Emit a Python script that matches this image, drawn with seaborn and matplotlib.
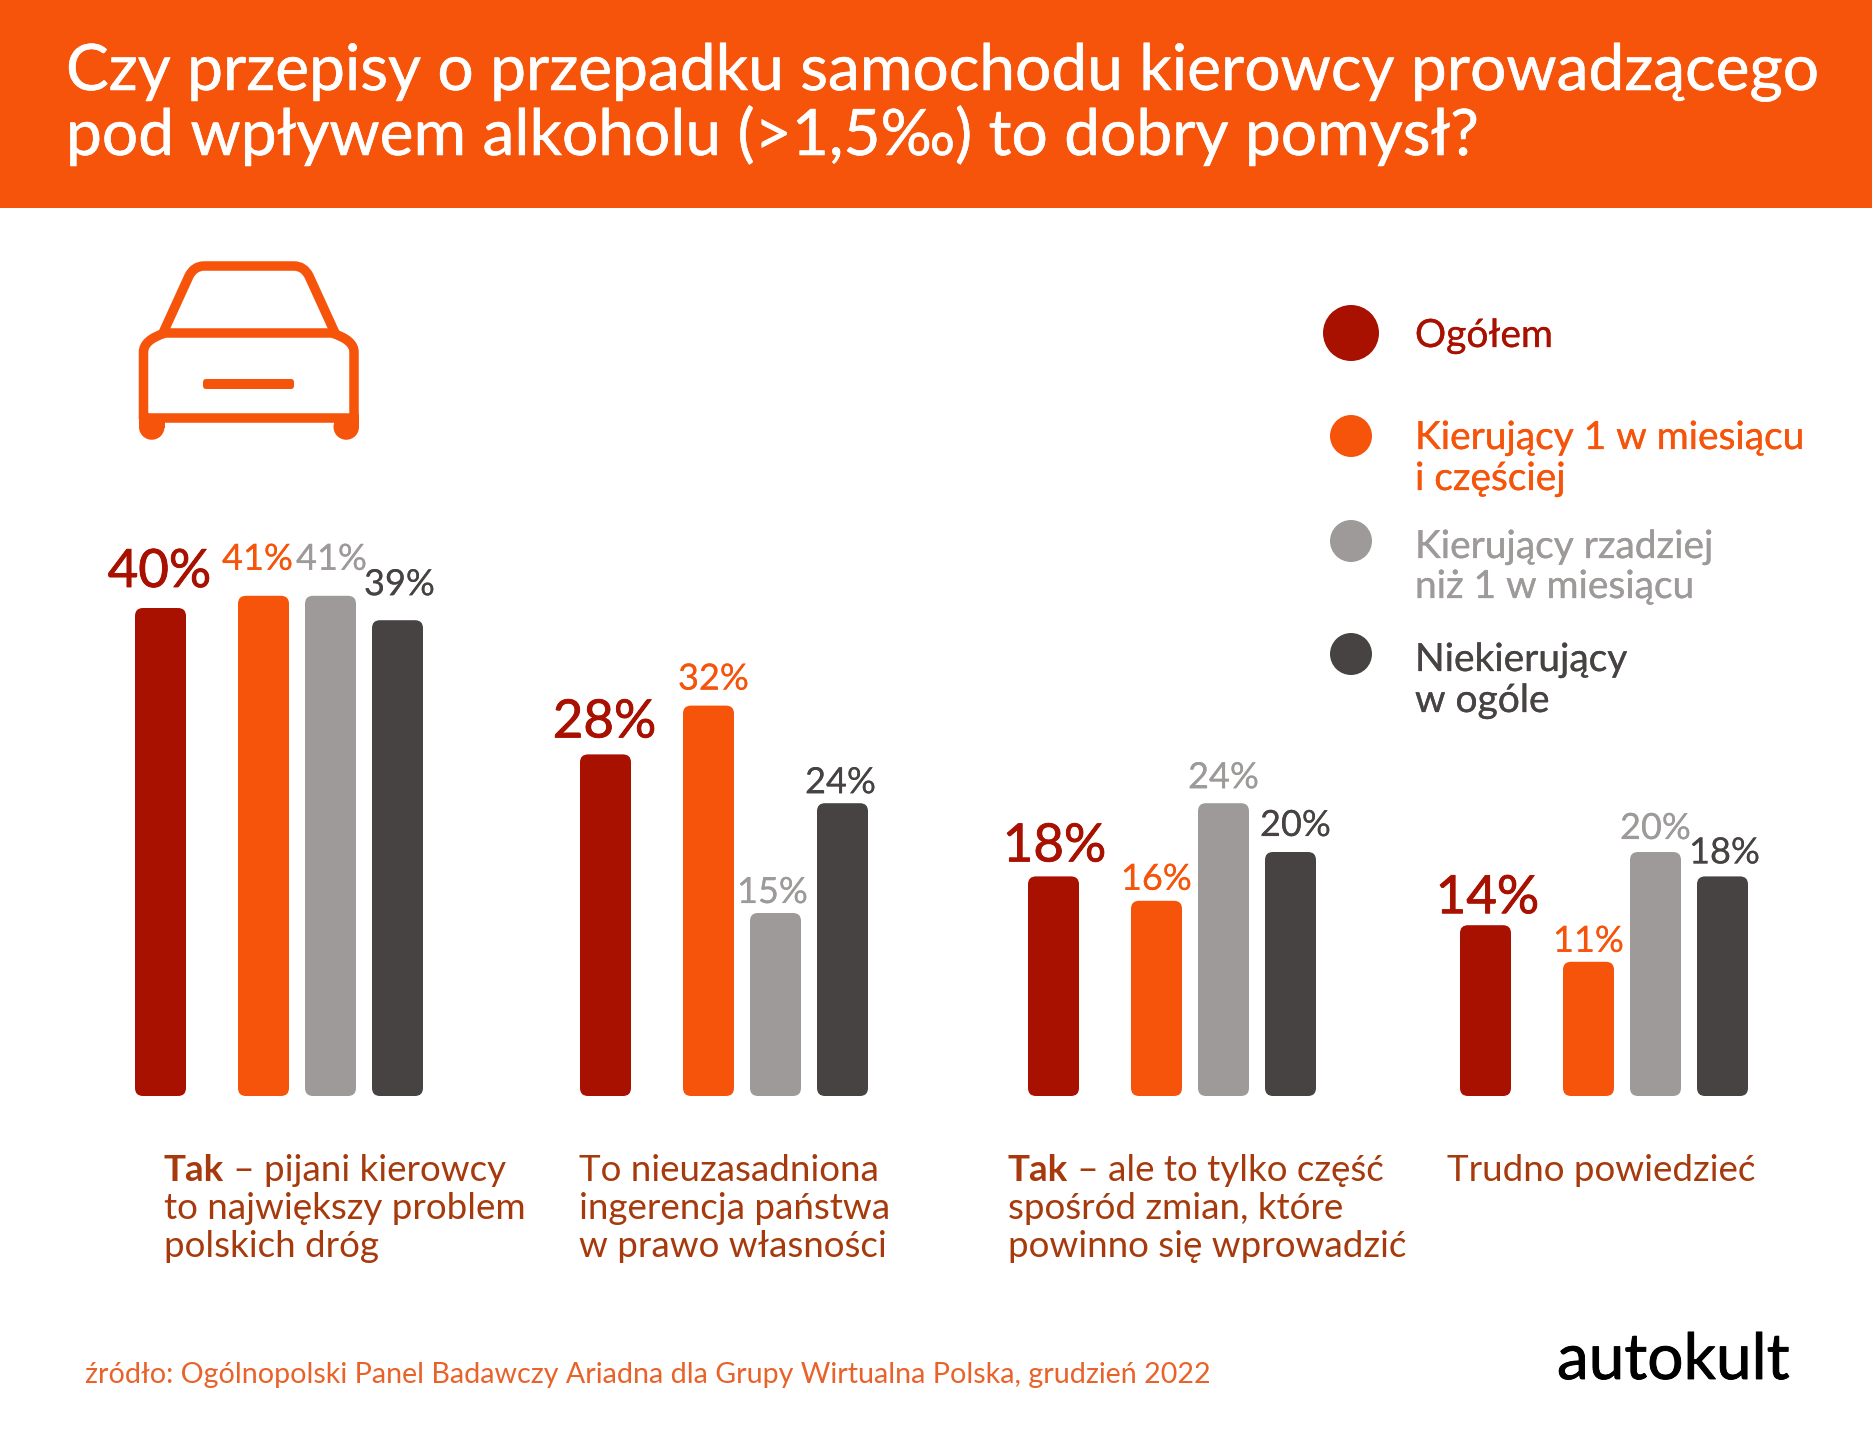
import pandas as pd
import matplotlib
matplotlib.use('Agg')
import matplotlib.pyplot as plt
import matplotlib.patheffects as pe
import seaborn as sns
from matplotlib.patches import Circle, FancyBboxPatch, PathPatch, Rectangle
from matplotlib.path import Path

title_lines = ['Czy przepisy o przepadku samochodu kierowcy prowadzącego',
               'pod wpływem alkoholu (>1,5‰) to dobry pomysł?']
series_names = ['Ogółem', 'Kierujący 1 w miesiącu i częściej',
                'Kierujący rzadziej niż 1 w miesiącu', 'Niekierujący w ogóle']
legend_lines = [['Ogółem'], ['Kierujący 1 w miesiącu', 'i częściej'],
                ['Kierujący rzadziej', 'niż 1 w miesiącu'], ['Niekierujący', 'w ogóle']]
groups = ['Tak 1', 'Nieuzasadniona', 'Tak 2', 'Trudno']
ogolem = [40, 28, 18, 14]
czesto = [41, 32, 16, 11]
rzadko = [41, 15, 24, 20]
wcale = [39, 24, 20, 18]
group_bold = ['Tak', '', 'Tak', '']
group_text = [[' – pijani kierowcy', 'to największy problem', 'polskich dróg'],
              ['To nieuzasadniona', 'ingerencja państwa', 'w prawo własności'],
              [' – ale to tylko część', 'spośród zmian, które', 'powinno się wprowadzić'],
              ['Trudno powiedzieć']]
source = 'źródło: Ogólnopolski Panel Badawczy Ariadna dla Grupy Wirtualna Polska, grudzień 2022'
brand = 'autokult'

RED, ORANGE, GRAY, DARK = '#A81000', '#F5540A', '#9E9A9A', '#474343'
TEXT_BROWN = '#A63A0C'
colors = [RED, ORANGE, GRAY, DARK]

# layout, in pixels of the 1872x1440 picture
group_left = [135, 580, 1028, 1460]
bar_offset = [0, 103, 170, 237]
bar_w = 51
px_per_pct = 12.2
base_y = 1096
label_dx = [[-1, -6, 1, 2], [-1, 5, -3, -2], [1, 0, 0, 5], [2, 0, 0, 2]]
label_gap = [[21, 26, 26, 25], [17, 16, 10, 10], [15, 11, 15, 16], [12, 10, 13, 13]]

sns.set_theme(style='white')
plt.rcParams['font.family'] = ['Lato', 'DejaVu Sans']


def heavier(color, width=1.0):
    # Lato has no medium cut here, thicken the regular one a little
    return [pe.withStroke(linewidth=width, foreground=color)]


rows = []
for s, (name, vals) in enumerate(zip(series_names, [ogolem, czesto, rzadko, wcale])):
    for g, v in enumerate(vals):
        rows.append({'series': name, 'group': groups[g], 'value': v, 's': s, 'g': g,
                     'pos': group_left[g] + bar_offset[s] + bar_w / 2})
df = pd.DataFrame(rows)

fig = plt.figure(figsize=(18.72, 14.4), dpi=100, facecolor='white')
ax = fig.add_axes([0, (1440 - base_y) / 1440, 1, 45 * px_per_pct / 1440])
sns.barplot(data=df, x='pos', y='value', hue='series', hue_order=series_names, palette=colors,
            native_scale=True, dodge=False, width=bar_w / 67, saturation=1, errorbar=None,
            legend=False, ax=ax)
ax.set_xlim(0, 1872)
ax.set_ylim(0, 45)
ax.axis('off')

# seaborn bars are square, the picture has rounded ones
for p in list(ax.patches):
    if p.get_height() <= 0:
        continue
    ax.add_patch(FancyBboxPatch((p.get_x(), 0), p.get_width(), p.get_height(),
                                boxstyle='round,pad=0,rounding_size=8',
                                mutation_aspect=1 / px_per_pct,
                                fc=p.get_facecolor(), ec='none', zorder=3))
    p.set_visible(False)

for _, r in df.iterrows():
    big = r['s'] == 0
    ax.annotate(f"{r['value']}%", (r['pos'], r['value']),
                xytext=(label_dx[r['g']][r['s']] * 0.72, label_gap[r['g']][r['s']] * 0.72),
                textcoords='offset points', ha='center', va='baseline',
                fontsize=38 if big else 26, color=colors[r['s']],
                path_effects=heavier(colors[r['s']], 0.6 if big else 0.1))

# everything else goes on a pixel overlay
ov = fig.add_axes([0, 0, 1, 1], facecolor='none')
ov.set_xlim(0, 1872)
ov.set_ylim(1440, 0)
ov.axis('off')

ov.add_patch(Rectangle((0, 0), 1872, 208, fc=ORANGE, ec='none'))
for line, y in zip(title_lines, [90, 155]):
    ov.text(66, y, line, color='white', fontsize=46.1, va='baseline', path_effects=heavier('white', 0.4))

# car icon
lw = 9.5 * 0.72
M, L, C = Path.MOVETO, Path.LINETO, Path.CURVE3
roof = Path([(163, 333), (189, 276), (194, 266), (204, 266), (294, 266), (304, 266), (309, 276), (335, 333)],
            [M, L, C, C, L, C, C, L])
body = Path([(143.5, 418), (143.5, 352), (143.5, 340), (165, 333), (332, 333), (354, 340), (354, 352), (354, 418), (143.5, 418)],
            [M, L, C, C, L, C, C, L, L])
for path in [roof, body]:
    ov.add_patch(PathPatch(path, fc='none', ec=ORANGE, lw=lw, joinstyle='round', capstyle='round'))
for x in [139, 333.5]:
    ov.add_patch(Rectangle((x, 414), 25.5, 13.5, fc=ORANGE, ec='none'))
    ov.add_patch(Circle((x + 12.75, 427), 12.75, fc=ORANGE, ec='none'))
ov.add_patch(FancyBboxPatch((203, 379), 91, 10, boxstyle='round,pad=0,rounding_size=3', fc=ORANGE, ec='none'))

# legend
legend_y = [333, 436, 541, 654]
legend_r = [28, 21, 21, 21]
legend_base = [[347], [449, 490], [558, 598], [671, 712]]
for lines, c, cy, rad, bases in zip(legend_lines, colors, legend_y, legend_r, legend_base):
    ov.add_patch(Circle((1351, cy), rad, fc=c, ec='none'))
    for line, y in zip(lines, bases):
        ov.text(1415, y, line, color=c, fontsize=28, va='baseline', path_effects=heavier(c, 0.2))

# group captions
caption_x = [164, 579, 1008, 1447]
caption_y = [1181, 1219, 1257]
renderer = fig.canvas.get_renderer()
for bold, lines, x in zip(group_bold, group_text, caption_x):
    for i, line in enumerate(lines):
        x0 = x
        if i == 0 and bold:
            t = ov.text(x, caption_y[0], bold, color=TEXT_BROWN, fontsize=26.5, fontweight='bold', va='baseline')
            x0 = x + t.get_window_extent(renderer).width
        ov.text(x0, caption_y[i], line, color=TEXT_BROWN, fontsize=26.5, va='baseline')

ov.text(85, 1383, source, color='#E8622A', fontsize=20.6, va='baseline')
ov.text(1557, 1379, brand, color='black', fontsize=46, va='baseline', path_effects=heavier('black', 0.6))

fig.savefig('out.png', dpi=100)
